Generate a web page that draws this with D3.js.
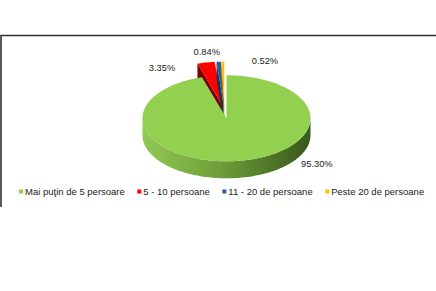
<!DOCTYPE html>
<html>
<head>
<meta charset="utf-8">
<script src="https://cdn.jsdelivr.net/npm/d3@7"></script>
<style>
  body { margin: 0; background: #fff; }
  svg { display: block; font-family: "Liberation Sans", Arial, sans-serif; }
</style>
</head>
<body>
<div id="chart"></div>
<script>
// data
const categories = ["Mai puţin de 5 persoare", "5 - 10 persoane", "11 - 20 de persoane", "Peste 20 de persoane"];
const shares = [95.30, 3.35, 0.84, 0.52];
const labels = ["95.30%", "3.35%", "0.84%", "0.52%"];

// styles / layout
const topColors = ["#92d050", "#ff0000", "#2e5a94", "#ffc000"];
const sideColors = ["#5f8f2e", "#7a0000", "#17345a", "#b38600"];
const labelShift = [[78, 3], [-44, 5], [-12, -10], [42, -1]];

const drawPie3d = () => {
  const width = 436;
  const height = 291;
  const cx = 224.5, cy = 111.5, rx = 84, ry = 43, depth = 17, explode = 0.16;

  const svg = d3.select("#chart").append("svg")
    .attr("width", width)
    .attr("height", height);

  // frame (only top and left edges are in view)
  svg.append("path")
    .attr("d", "M1,207V35.5H436")
    .attr("fill", "none")
    .attr("stroke", "#333")
    .attr("stroke-width", 1.6);

  const defs = svg.append("defs");
  const grad = defs.append("linearGradient")
    .attr("id", "greenSide")
    .attr("gradientUnits", "userSpaceOnUse")
    .attr("x1", cx - rx).attr("x2", cx + rx)
    .attr("y1", 0).attr("y2", 0);
  grad.append("stop").attr("offset", 0).attr("stop-color", "#93c955");
  grad.append("stop").attr("offset", 0.45).attr("stop-color", "#70a139");
  grad.append("stop").attr("offset", 1).attr("stop-color", "#38591d");

  const pie = d3.pie().sort(null).value((d) => d);
  const arcs = pie(shares);

  const proj = (a, c, dz = 0) => [c[0] + rx * Math.sin(a), c[1] - ry * Math.cos(a) + dz];
  const centerOf = (d) => {
    const m = (d.startAngle + d.endAngle) / 2;
    return [cx + rx * explode * Math.sin(m), cy - ry * explode * Math.cos(m)];
  };
  const arcPts = (a0, a1, c, dz = 0) => {
    const n = Math.max(2, Math.ceil((a1 - a0) / 0.02));
    return d3.range(n + 1).map((i) => proj(a0 + ((a1 - a0) * i) / n, c, dz));
  };
  const line = d3.line();
  const g = svg.append("g");

  const drawSlice = (d, i) => {
    const c = centerOf(d);
    const s = d.startAngle, e = d.endAngle;
    const cb = [c[0], c[1] + depth];
    // outer wall, front half only
    const a0 = Math.max(s, Math.PI / 2), a1 = Math.min(e, (3 * Math.PI) / 2);
    if (a1 > a0) {
      const pts = arcPts(a0, a1, c).concat(arcPts(a0, a1, c, depth).reverse());
      g.append("path")
        .attr("d", line(pts) + "Z")
        .attr("fill", i === 0 ? "url(#greenSide)" : sideColors[i]);
    }
    // cut faces
    if (Math.sin(s) < -1e-6) {
      g.append("path")
        .attr("d", line([c, proj(s, c), proj(s, c, depth), cb]) + "Z")
        .attr("fill", sideColors[i]);
    }
    if (Math.sin(e) > 1e-6) {
      g.append("path")
        .attr("d", line([c, proj(e, c), proj(e, c, depth), cb]) + "Z")
        .attr("fill", sideColors[i]);
    }
    // top face
    g.append("path")
      .attr("d", line([c].concat(arcPts(s, e, c))) + "Z")
      .attr("fill", topColors[i]);
  };

  // back slices first, big slice last
  arcs.slice(1).forEach((d, k) => drawSlice(d, k + 1));
  drawSlice(arcs[0], 0);

  // data labels
  svg.append("g")
    .selectAll("text")
    .data(arcs)
    .join("text")
    .attr("x", (d, i) => {
      const m = (d.startAngle + d.endAngle) / 2;
      return proj(m, centerOf(d))[0] + labelShift[i][0];
    })
    .attr("y", (d, i) => {
      const m = (d.startAngle + d.endAngle) / 2;
      return proj(m, centerOf(d))[1] + labelShift[i][1];
    })
    .attr("dy", "0.35em")
    .attr("text-anchor", "middle")
    .attr("font-size", "9.3px")
    .attr("fill", "#222")
    .text((d, i) => labels[i]);

  // legend
  const legend = svg.append("g").attr("transform", "translate(19,191.5)");
  let x = 0;
  categories.forEach((name, i) => {
    legend.append("rect")
      .attr("x", x).attr("y", -2)
      .attr("width", 4).attr("height", 4)
      .attr("fill", topColors[i]);
    const t = legend.append("text")
      .attr("x", x + 6)
      .attr("dy", "0.35em")
      .attr("font-size", "9.5px")
      .attr("fill", "#222")
      .text(name);
    x += 6 + t.node().getComputedTextLength() + 12.5;
  });
};

drawPie3d();
</script>
</body>
</html>
